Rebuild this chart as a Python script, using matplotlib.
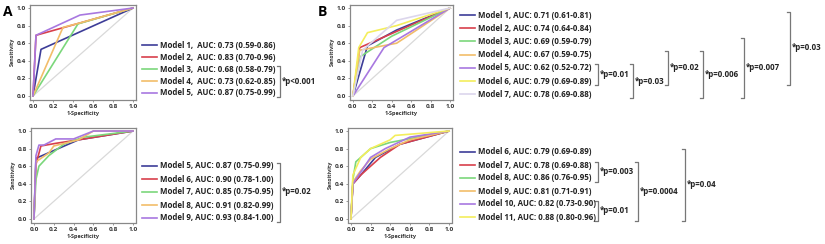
import matplotlib
matplotlib.use("Agg")
import matplotlib.pyplot as plt
from matplotlib.lines import Line2D

plt.rcParams['font.family'] = ['Open Sans', 'DejaVu Sans']

# ---- data ----
# Panel A, top
a1_labels = ['Model 1,  AUC: 0.73 (0.59-0.86)', 'Model 2,  AUC: 0.83 (0.70-0.96)',
             'Model 3,  AUC: 0.68 (0.58-0.79)', 'Model 4,  AUC: 0.73 (0.62-0.85)',
             'Model 5,  AUC: 0.87 (0.75-0.99)']
a1_fpr = [[0, 0.08, 1], [0, 0.03, 0.47, 1], [0, 0.45, 1], [0, 0.30, 0.47, 1], [0, 0.03, 0.47, 1]]
a1_tpr = [[0, 0.53, 1], [0, 0.69, 0.83, 1], [0, 0.82, 1], [0, 0.78, 0.83, 1], [0, 0.69, 0.92, 1]]

# Panel A, bottom
a2_labels = ['Model 5, AUC: 0.87 (0.75-0.99)', 'Model 6, AUC: 0.90 (0.78-1.00)',
             'Model 7, AUC: 0.85 (0.75-0.95)', 'Model 8, AUC: 0.91 (0.82-0.99)',
             'Model 9, AUC: 0.93 (0.84-1.00)']
a2_fpr = [[0, 0.02, 0.45, 1],
          [0, 0.02, 0.07, 0.22, 0.45, 1],
          [0, 0.02, 0.05, 0.15, 0.30, 0.50, 1],
          [0, 0.02, 0.15, 0.20, 0.45, 0.60, 1],
          [0, 0.02, 0.05, 0.10, 0.22, 0.40, 0.60, 1]]
a2_tpr = [[0, 0.69, 0.90, 1],
          [0, 0.62, 0.83, 0.86, 0.90, 1],
          [0, 0.45, 0.60, 0.72, 0.85, 0.93, 1],
          [0, 0.65, 0.75, 0.83, 0.90, 1.0, 1],
          [0, 0.72, 0.84, 0.84, 0.91, 0.91, 1.0, 1]]

# Panel B, top
b1_labels = ['Model 1, AUC: 0.71 (0.61-0.81)', 'Model 2, AUC: 0.74 (0.64-0.84)',
             'Model 3, AUC: 0.69 (0.59-0.79)', 'Model 4, AUC: 0.67 (0.59-0.75)',
             'Model 5, AUC: 0.62 (0.52-0.72)', 'Model 6, AUC: 0.79 (0.69-0.89)',
             'Model 7, AUC: 0.78 (0.69-0.88)']
b1_fpr = [[0, 0.15, 0.45, 1], [0, 0.07, 1], [0, 0.08, 0.40, 1], [0, 0.07, 0.45, 1],
          [0, 0.32, 1], [0, 0.06, 0.15, 0.45, 1], [0, 0.10, 0.45, 1]]
b1_tpr = [[0, 0.57, 0.75, 1], [0, 0.55, 1], [0, 0.45, 0.68, 1], [0, 0.52, 0.60, 1],
          [0, 0.55, 1], [0, 0.55, 0.72, 0.80, 1], [0, 0.52, 0.86, 1]]

# Panel B, bottom
b2_labels = ['Model 6, AUC: 0.79 (0.69-0.89)', 'Model 7, AUC: 0.78 (0.69-0.88)',
             'Model 8, AUC: 0.86 (0.76-0.95)', 'Model 9, AUC: 0.81 (0.71-0.91)',
             'Model 10, AUC: 0.82 (0.73-0.90)', 'Model 11, AUC: 0.88 (0.80-0.96)']
b2_fpr = [[0, 0.02, 0.10, 0.25, 0.50, 1],
          [0, 0.02, 0.10, 0.30, 0.50, 1],
          [0, 0.02, 0.05, 0.12, 0.20, 0.40, 1],
          [0, 0.02, 0.10, 0.20, 0.40, 0.60, 1],
          [0, 0.02, 0.08, 0.20, 0.35, 0.60, 1],
          [0, 0.02, 0.10, 0.20, 0.40, 0.45, 1]]
b2_tpr = [[0, 0.40, 0.50, 0.70, 0.85, 1],
          [0, 0.40, 0.50, 0.70, 0.85, 1],
          [0, 0.45, 0.65, 0.72, 0.80, 0.87, 1],
          [0, 0.42, 0.55, 0.68, 0.80, 0.90, 1],
          [0, 0.40, 0.50, 0.70, 0.80, 0.93, 1],
          [0, 0.50, 0.70, 0.80, 0.90, 0.95, 1]]

# significance brackets: (first row, last row, text)
a1_pvals = [(2, 4, '*p<0.001')]
a2_pvals = [(0, 4, '*p=0.02')]
b1_pvals = [(4, 5, '*p=0.01'), (4, 6, '*p=0.03'), (3, 5, '*p=0.02'),
            (3, 6, '*p=0.006'), (2, 6, '*p=0.007'), (0, 5, '*p=0.03')]
b2_pvals = [(1, 2, '*p=0.003'), (4, 5, '*p=0.01'), (1, 5, '*p=0.0004'), (0, 5, '*p=0.04')]

# ---- styles ----
navy = '#3d3d98'
red = '#d8404c'
green = '#7bd77b'
tan = '#f2bd6a'
purple = '#a878e0'
yellow = '#f4ee5c'
pale = '#dcd6ec'
a1_colors = [navy, red, green, tan, purple]
a2_colors = [navy, red, green, tan, purple]
b1_colors = [navy, red, green, tan, purple, yellow, pale]
b2_colors = [navy, red, green, tan, purple, yellow]

FS = 5.7
W, H = 825, 244
fig = plt.figure(figsize=(W / 100, H / 100), dpi=100)


def px_axes(left, top, right, bottom):
    return fig.add_axes([left / W, 1 - bottom / H, (right - left) / W, (bottom - top) / H])


def fx(x):
    return x / W


def fy(y):
    return 1 - y / H


def roc_panel(ax, fprs, tprs, colors):
    ax.plot([0, 1], [0, 1], color='#d9d9d9', lw=0.9)
    for f, t, c in zip(fprs, tprs, colors):
        ax.plot(f, t, color=c, lw=1.2)
    ax.set_xlim(-0.03, 1.03)
    ax.set_ylim(-0.04, 1.04)
    ticks = [0, 0.2, 0.4, 0.6, 0.8, 1.0]
    ax.set_xticks(ticks)
    ax.set_yticks(ticks)
    ax.set_xticklabels(['%.1f' % v for v in ticks])
    ax.set_yticklabels(['%.1f' % v for v in ticks])
    ax.tick_params(labelsize=4.6, length=1.5, width=0.6, pad=1.5, colors='#888888', labelcolor='#333333')
    for lab in ax.get_xticklabels() + ax.get_yticklabels():
        lab.set_fontweight('bold')
    for s in ax.spines.values():
        s.set_color('#888888')
        s.set_linewidth(0.9)
    ax.set_xlabel('1-Specificity', fontsize=4.0, fontweight='bold', labelpad=1.5, color='#333333')
    ax.set_ylabel('Sensitivity', fontsize=4.0, fontweight='bold', labelpad=1.5, color='#333333')


def legend_rows(labels, colors, x_line, y0, dy):
    ys = []
    for i, (lab, c) in enumerate(zip(labels, colors)):
        y = y0 + i * dy
        ys.append(y)
        fig.add_artist(Line2D([fx(x_line), fx(x_line + 15)], [fy(y), fy(y)], color=c, lw=1.2))
        fig.text(fx(x_line + 18), fy(y), lab, fontsize=FS, fontweight='bold',
                 va='center', ha='left', color='#222222')
    return ys


def brackets(ys, pvals, xs):
    for (i0, i1, txt), x in zip(pvals, xs):
        top, bot = ys[i0] - 3.5, ys[i1] + 3.5
        fig.add_artist(Line2D([fx(x - 3), fx(x), fx(x), fx(x - 3)],
                              [fy(top), fy(top), fy(bot), fy(bot)], color='#777777', lw=0.9))
        fig.text(fx(x + 2), fy((top + bot) / 2), txt, fontsize=FS, fontweight='bold',
                 va='center', ha='left', color='#222222')


ax1 = px_axes(30, 4.5, 136, 99.5)
roc_panel(ax1, a1_fpr, a1_tpr, a1_colors)
ax2 = px_axes(31, 127.5, 136, 222.5)
roc_panel(ax2, a2_fpr, a2_tpr, a2_colors)
ax3 = px_axes(350, 4.5, 453, 99.5)
roc_panel(ax3, b1_fpr, b1_tpr, b1_colors)
ax4 = px_axes(348, 127.5, 452, 222.5)
roc_panel(ax4, b2_fpr, b2_tpr, b2_colors)

fig.text(fx(3), fy(12), 'A', fontsize=10, fontweight='bold', va='center', ha='left')
fig.text(fx(318), fy(12), 'B', fontsize=10, fontweight='bold', va='center', ha='left')

ys = legend_rows(a1_labels, a1_colors, 142, 45, 12)
brackets(ys, a1_pvals, [280])
ys = legend_rows(a2_labels, a2_colors, 142, 166, 13)
brackets(ys, a2_pvals, [280])
ys = legend_rows(b1_labels, b1_colors, 460, 15, 13.2)
brackets(ys, b1_pvals, [598, 633, 668, 703, 744, 790])
ys = legend_rows(b2_labels, b2_colors, 460, 152, 13)
brackets(ys, b2_pvals, [598, 598, 638, 685])

fig.savefig('out.png', dpi=100)
